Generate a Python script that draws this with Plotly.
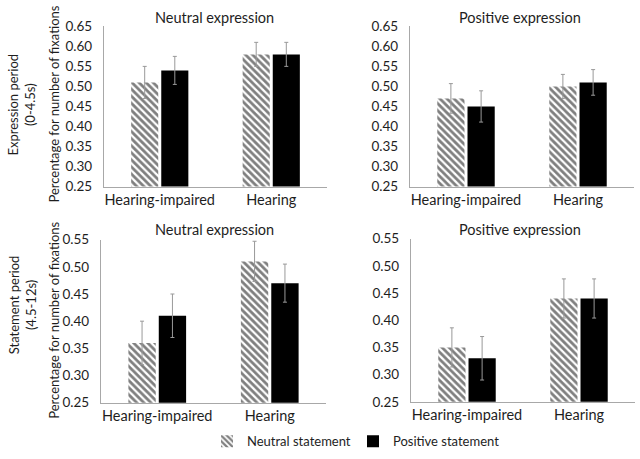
import plotly.graph_objects as go

categories = ["Hearing-impaired", "Hearing"]
series_names = ["Neutral statement", "Positive statement"]

# Expression period (0-4.5s)
expr_neutral_face_neutral_stmt = [0.51, 0.58]
expr_neutral_face_positive_stmt = [0.54, 0.58]
expr_neutral_face_neutral_err = [0.04, 0.03]
expr_neutral_face_positive_err = [0.035, 0.03]

expr_positive_face_neutral_stmt = [0.47, 0.50]
expr_positive_face_positive_stmt = [0.45, 0.51]
expr_positive_face_neutral_err = [0.037, 0.03]
expr_positive_face_positive_err = [0.039, 0.032]

# Statement period (4.5-12s)
stmt_neutral_face_neutral_stmt = [0.36, 0.51]
stmt_neutral_face_positive_stmt = [0.41, 0.47]
stmt_neutral_face_neutral_err = [0.04, 0.037]
stmt_neutral_face_positive_err = [0.04, 0.035]

stmt_positive_face_neutral_stmt = [0.35, 0.44]
stmt_positive_face_positive_stmt = [0.33, 0.44]
stmt_positive_face_neutral_err = [0.036, 0.036]
stmt_positive_face_positive_err = [0.04, 0.036]

panel_titles = ["Neutral expression", "Positive expression",
                "Neutral expression", "Positive expression"]
row_labels = ["Expression period<br>(0-4.5s)", "Statement period<br>(4.5-12s)"]
y_title = "Percentage for number of fixations"

W, H = 640, 459
FONT = "Lato"
TXT = "#1e1e1e"
AX = "#a8a8a8"
ERR = "#999999"

def px(x):
    return x / W

def py(y):
    return 1 - y / H

panels = [
    (expr_neutral_face_neutral_stmt, expr_neutral_face_neutral_err,
     expr_neutral_face_positive_stmt, expr_neutral_face_positive_err),
    (expr_positive_face_neutral_stmt, expr_positive_face_neutral_err,
     expr_positive_face_positive_stmt, expr_positive_face_positive_err),
    (stmt_neutral_face_neutral_stmt, stmt_neutral_face_neutral_err,
     stmt_neutral_face_positive_stmt, stmt_neutral_face_positive_err),
    (stmt_positive_face_neutral_stmt, stmt_positive_face_neutral_err,
     stmt_positive_face_positive_stmt, stmt_positive_face_positive_err),
]

# pixel boxes (x0, x1, ytop, ybottom)
boxes = [
    (104, 327, 19, 185),
    (410, 634, 19, 185),
    (101, 326, 240, 409),
    (411, 635, 239, 408),
]
yranges = [[0.25, 0.65], [0.25, 0.65], [0.25, 0.55], [0.25, 0.55]]

fig = go.Figure()
layout = {}
for i, (vals, box, yr) in enumerate(zip(panels, boxes, yranges)):
    n, ne, p, pe = vals
    sfx = "" if i == 0 else str(i + 1)
    xa, ya = "x" + sfx, "y" + sfx
    fig.add_trace(go.Bar(
        x=categories, y=n, name=series_names[0], xaxis=xa, yaxis=ya,
        offsetgroup="n", showlegend=(i == 0), legendgroup="n", legend="legend",
        marker=dict(color="white", line=dict(width=0),
                    pattern=dict(shape="\\", fgcolor="black", bgcolor="white",
                                 size=5, solidity=0.55)),
        error_y=dict(type="data", array=ne, color=ERR, thickness=1, width=2),
    ))
    fig.add_trace(go.Bar(
        x=categories, y=p, name=series_names[1], xaxis=xa, yaxis=ya,
        offsetgroup="p", showlegend=(i == 0), legendgroup="p", legend="legend2",
        marker=dict(color="black", line=dict(width=0)),
        error_y=dict(type="data", array=pe, color=ERR, thickness=1, width=2),
    ))
    x0, x1, yt, yb = box
    layout["xaxis" + sfx] = dict(
        domain=[px(x0), px(x1)], anchor=ya, showline=True, linecolor=AX,
        linewidth=1.2, ticks="", showgrid=False, zeroline=False,
        tickfont=dict(family=FONT, size=14.5, color=TXT), fixedrange=True)
    layout["yaxis" + sfx] = dict(
        domain=[py(yb), py(yt)], anchor=xa, range=yr, dtick=0.05,
        tickformat=".2f", showline=True, linecolor=AX, linewidth=1.2,
        ticks="", showgrid=False, zeroline=False, ticklabelstandoff=8,
        tickfont=dict(family=FONT, size=13.5, color=TXT), fixedrange=True)

annotations = []
title_pos = [(214, 10), (520, 10), (214, 230), (520, 230)]
for t, (x, y) in zip(panel_titles, title_pos):
    annotations.append(dict(text=t, x=px(x), y=py(y), xref="paper", yref="paper",
                            showarrow=False, xanchor="center", yanchor="middle",
                            font=dict(family=FONT, size=14.5, color=TXT)))
for yc in [100, 324]:
    annotations.append(dict(text=y_title, x=px(54), y=py(yc), xref="paper",
                            yref="paper", showarrow=False, textangle=-90,
                            xanchor="center", yanchor="middle",
                            font=dict(family=FONT, size=13, color=TXT)))
for lab, yc in zip(row_labels, [100, 308]):
    annotations.append(dict(text=lab, x=px(22), y=py(yc), xref="paper",
                            yref="paper", showarrow=False, textangle=-90,
                            xanchor="center", yanchor="middle",
                            font=dict(family=FONT, size=13, color=TXT)))

leg_font = dict(family=FONT, size=13, color=TXT)
fig.update_layout(
    width=W, height=H, margin=dict(l=0, r=0, t=0, b=0),
    paper_bgcolor="white", plot_bgcolor="white",
    barmode="group", bargap=0.46, bargroupgap=0.1,
    annotations=annotations,
    legend=dict(orientation="h", x=px(207), y=py(449), xanchor="left",
                yanchor="middle", font=leg_font, itemwidth=30,
                bgcolor="rgba(0,0,0,0)"),
    legend2=dict(orientation="h", x=px(353), y=py(449), xanchor="left",
                 yanchor="middle", font=leg_font, itemwidth=30,
                 bgcolor="rgba(0,0,0,0)"),
    **layout,
)

fig.write_html("out.html", config={"displayModeBar": False},
               post_script="document.body.style.margin='0';document.body.style.padding='0';")
